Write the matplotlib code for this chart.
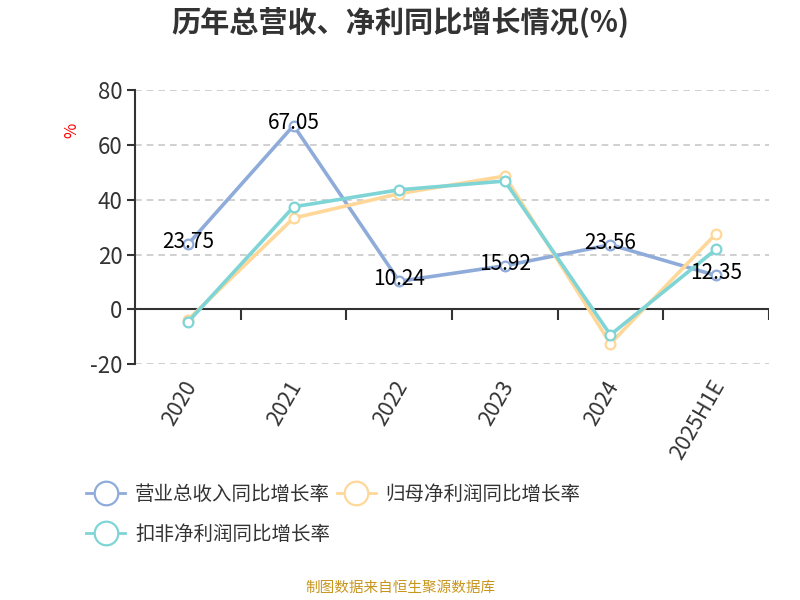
import matplotlib
matplotlib.use("Agg")
import matplotlib.pyplot as plt
import matplotlib.transforms as mtransforms
from matplotlib.lines import Line2D

plt.rcParams["font.family"] = ["Noto Sans CJK SC", "DejaVu Sans"]

# data
categories = ["2020", "2021", "2022", "2023", "2024", "2025H1E"]
revenue_yoy = [23.75, 67.05, 10.24, 15.92, 23.56, 12.35]
parent_np_yoy = [-3.8, 33.3, 42.2, 48.6, -12.5, 27.6]
deducted_np_yoy = [-4.6, 37.4, 43.6, 46.8, -9.3, 21.9]
yticks = [-20, 0, 20, 40, 60, 80]

C_BLUE = "#8eabda"
C_ORANGE = "#ffd899"
C_TEAL = "#7fd4d6"
C_TEXT = "#333333"

fig = plt.figure(figsize=(8, 6), dpi=100)
ax = fig.add_axes([0.169, 0.393, 0.792, 0.457])

x = list(range(len(categories)))

for yv in yticks:
    if yv != 0:
        ax.axhline(yv, color="#c8c8c8", linestyle=(0, (4, 3)), linewidth=1.2, zorder=0)
ax.axhline(0, color=C_TEXT, linewidth=1.5, zorder=1)
ax.vlines([i + 0.5 for i in x], -3.8, 0, color=C_TEXT, linewidth=1.5, zorder=1)

series = [
    (parent_np_yoy, C_ORANGE, 3),
    (deducted_np_yoy, C_TEAL, 4),
    (revenue_yoy, C_BLUE, 2),
]
for vals, col, z in series:
    ax.plot(x, vals, color=col, linewidth=2.6, marker="o", markersize=7,
            markerfacecolor="white", markeredgecolor=col, markeredgewidth=1.6,
            zorder=z)

for xi, v in zip(x, revenue_yoy):
    ax.text(xi, v + 0.8, f"{v:.2f}", ha="center", va="center", fontsize=15,
            color="black", zorder=6)

ax.set_xlim(-0.5, 5.5)
ax.set_ylim(-20, 80)
ax.set_yticks(yticks)
ax.set_yticklabels([str(v) for v in yticks], fontsize=16, color=C_TEXT)
ax.set_xticks(x)
ax.set_xticklabels(categories, rotation=60, ha="right", rotation_mode="anchor",
                   fontsize=15.5, color=C_TEXT)
ax.tick_params(axis="x", length=0, pad=9)
ax.tick_params(axis="y", length=6, width=1.5, color=C_TEXT, pad=3)
shift = mtransforms.ScaledTranslation(-6 / 100, 0, fig.dpi_scale_trans)
for lbl in ax.get_xticklabels():
    lbl.set_transform(lbl.get_transform() + shift)

for s in ["top", "right", "bottom"]:
    ax.spines[s].set_visible(False)
ax.spines["left"].set_color(C_TEXT)
ax.spines["left"].set_linewidth(1.5)

fig.text(0.09, 0.783, "%", color="red", fontsize=12, rotation=90,
         ha="center", va="center")

fig.text(0.5, 0.962, "历年总营收、净利同比增长情况(%)", ha="center", va="center",
         fontsize=21, fontweight="bold", color=C_TEXT)

def handle(col):
    return Line2D([0], [0], color=col, linewidth=2, marker="o", markersize=17,
                  markerfacecolor="white", markeredgecolor=col, markeredgewidth=1.6)

handles = [handle(C_BLUE), handle(C_TEAL), handle(C_ORANGE)]
labels = ["营业总收入同比增长率", "扣非净利润同比增长率", "归母净利润同比增长率"]
fig.legend(handles, labels, ncol=2, loc="upper left", bbox_to_anchor=(0.086, 0.223),
           frameon=False, fontsize=14, handlelength=2.0, columnspacing=0.35,
           labelspacing=1.0, handletextpad=0.5, labelcolor=C_TEXT)

fig.text(0.5, 0.02, "制图数据来自恒生聚源数据库", ha="center", va="center",
         fontsize=10.5, color="#c8961e")

fig.savefig("out.png", dpi=100)
